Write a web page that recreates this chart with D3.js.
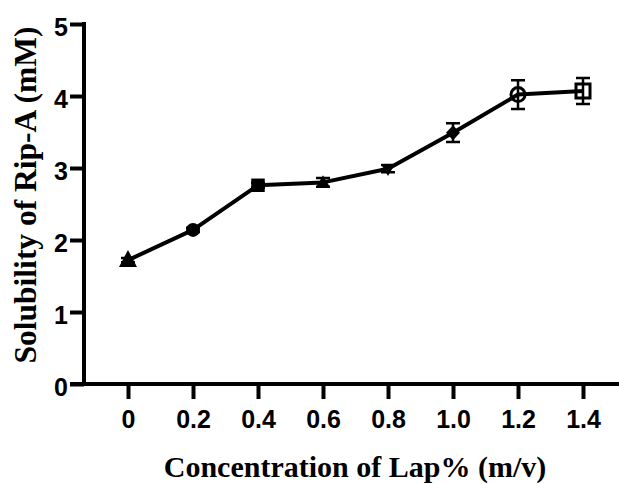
<!DOCTYPE html>
<html>
<head>
<meta charset="utf-8">
<script src="https://cdn.jsdelivr.net/npm/d3@7"></script>
<style>
  html, body { margin: 0; padding: 0; background: #fff; }
  svg { display: block; }
</style>
</head>
<body>
<script>
// ---- data ----
const categories = ["0", "0.2", "0.4", "0.6", "0.8", "1.0", "1.2", "1.4"];
const solubility = [1.72, 2.14, 2.76, 2.80, 2.99, 3.49, 4.02, 4.07];
const errors     = [0.03, 0.03, 0.03, 0.06, 0.05, 0.13, 0.20, 0.18];
const markers    = ["triangleBig", "circle", "square", "triangle", "triangleDown", "diamond", "openCircle", "openSquare"];
const yTicks     = [0, 1, 2, 3, 4, 5];
const xTitle = "Concentration of Lap% (m/v)";
const yTitle = "Solubility of Rip-A (mM)";

const W = 619, H = 484;
const svg = d3.select("body").append("svg").attr("width", W).attr("height", H);

const x = d3.scalePoint().domain(categories).range([128, 583]);
const y = d3.scaleLinear().domain([0, 5]).range([384, 24]);

const AX_W = 4;
const tickFont = "'Liberation Sans', Arial, sans-serif";
const titleFont = "'Liberation Serif', 'Times New Roman', serif";

// y axis
const yAxis = svg.append("g").attr("transform", "translate(84,0)")
  .call(d3.axisLeft(y).tickValues(yTicks).tickFormat(d3.format("d")).tickSize(14).tickPadding(2));
yAxis.select(".domain").attr("d", `M0,${y(5) - 2}V${y(0) + AX_W / 2}`).attr("stroke-width", AX_W).attr("stroke", "#000");
yAxis.selectAll(".tick line").attr("stroke-width", AX_W).attr("stroke", "#000");
yAxis.selectAll(".tick text")
  .attr("font-family", tickFont)
  .attr("font-weight", "bold").attr("font-size", 25).attr("fill", "#000")
  .attr("dy", null).attr("y", 11);

// x axis
const xAxis = svg.append("g").attr("transform", `translate(0,${y(0)})`)
  .call(d3.axisBottom(x).tickSize(15).tickPadding(12));
xAxis.select(".domain").attr("d", `M70,0H619`).attr("stroke-width", AX_W).attr("stroke", "#000");
xAxis.selectAll(".tick line").attr("stroke-width", AX_W).attr("stroke", "#000");
xAxis.selectAll(".tick text")
  .attr("font-family", tickFont)
  .attr("font-weight", "bold").attr("font-size", 25).attr("fill", "#000")
  .attr("dy", null).attr("y", 44);

// titles
svg.append("text")
  .attr("x", 355).attr("y", 477).attr("text-anchor", "middle")
  .attr("font-family", titleFont)
  .attr("font-weight", "bold").attr("font-size", 30).attr("fill", "#000")
  .text(xTitle);
svg.append("text")
  .attr("transform", "translate(36,195) rotate(-90)").attr("text-anchor", "middle")
  .attr("font-family", titleFont)
  .attr("font-weight", "bold").attr("font-size", 31.5).attr("fill", "#000")
  .text(yTitle);

const pts = categories.map((c, i) => ({ c, v: solubility[i], e: errors[i], m: markers[i] }));

// line
svg.append("path").datum(pts)
  .attr("d", d3.line().x(d => x(d.c)).y(d => y(d.v)))
  .attr("fill", "none").attr("stroke", "#000").attr("stroke-width", 4).attr("stroke-linejoin", "round");

// error bars
const eb = svg.append("g").attr("stroke", "#000").attr("stroke-width", 2.5).attr("fill", "none");
pts.forEach(d => {
  const cx = x(d.c), t = y(d.v + d.e), b = y(d.v - d.e), cw = 7;
  eb.append("path").attr("d", `M${cx},${t}V${b}M${cx - cw},${t}H${cx + cw}M${cx - cw},${b}H${cx + cw}`);
});

// markers
function triPath(w, h, down) {
  const p = d3.path();
  if (!down) { p.moveTo(0, -h * 0.6); p.lineTo(w / 2, h * 0.4); p.lineTo(-w / 2, h * 0.4); }
  else { p.moveTo(0, h * 0.6); p.lineTo(w / 2, -h * 0.4); p.lineTo(-w / 2, -h * 0.4); }
  p.closePath();
  return p.toString();
}
function shape(m) {
  switch (m) {
    case "triangleBig": return { d: triPath(18, 17, false), fill: "#000", sw: 0 };
    case "triangle": return { d: triPath(14, 12, false), fill: "#000", sw: 0 };
    case "triangleDown": return { d: triPath(14, 12, true), fill: "#000", sw: 0 };
    case "circle": return { d: d3.symbol(d3.symbolCircle, Math.PI * 7 * 7)(), fill: "#000", sw: 0 };
    case "square": return { d: d3.symbol(d3.symbolSquare, 13.5 * 13.5)(), fill: "#000", sw: 0 };
    case "diamond": { const p = d3.path(); p.moveTo(0, -7.5); p.lineTo(7, 0); p.lineTo(0, 7.5); p.lineTo(-7, 0); p.closePath(); return { d: p.toString(), fill: "#000", sw: 0 }; }
    case "openCircle": return { d: d3.symbol(d3.symbolCircle, Math.PI * 7 * 7)(), fill: "none", sw: 3 };
    case "openSquare": return { d: d3.symbol(d3.symbolSquare, 14 * 14)(), fill: "none", sw: 3 };
  }
}
svg.append("g").selectAll("path").data(pts).join("path")
  .attr("transform", d => `translate(${x(d.c)},${y(d.v)})`)
  .each(function (d) {
    const s = shape(d.m);
    d3.select(this).attr("d", s.d).attr("fill", s.fill)
      .attr("stroke", s.sw ? "#000" : "none").attr("stroke-width", s.sw);
  });
</script>
</body>
</html>
